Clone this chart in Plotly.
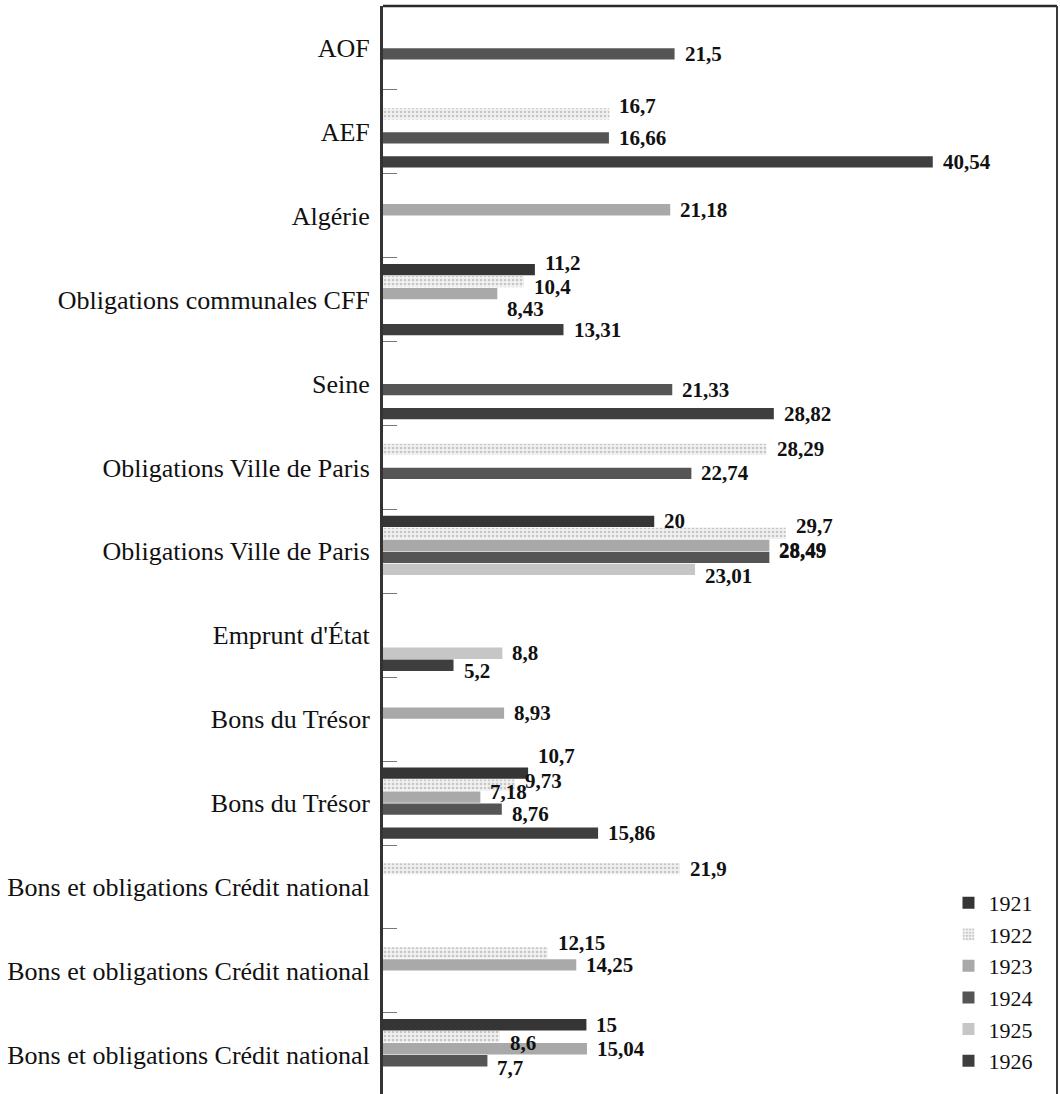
import plotly.graph_objects as go

# catégories, de haut en bas
categories = [
    "AOF",
    "AEF",
    "Algérie",
    "Obligations communales CFF",
    "Seine",
    "Obligations Ville de Paris",
    "Obligations Ville de Paris",
    "Emprunt d'État",
    "Bons du Trésor",
    "Bons du Trésor",
    "Bons et obligations Crédit national",
    "Bons et obligations Crédit national",
    "Bons et obligations Crédit national",
]
years = ["1921", "1922", "1923", "1924", "1925", "1926"]

v1921 = [None, None, None, 11.2, None, None, 20, None, None, 10.7, None, None, 15]
v1922 = [None, 16.7, None, 10.4, None, 28.29, 29.7, None, None, 9.73, 21.9, 12.15, 8.6]
v1923 = [None, None, 21.18, 8.43, None, None, 28.49, None, 8.93, 7.18, None, 14.25, 15.04]
v1924 = [21.5, 16.66, None, None, 21.33, 22.74, 28.49, None, None, 8.76, None, None, 7.7]
v1925 = [None, None, None, None, None, None, 23.01, 8.8, None, None, None, None, None]
v1926 = [None, 40.54, None, 13.31, 28.82, None, None, 5.2, None, 15.86, None, None, None]
series = [v1921, v1922, v1923, v1924, v1925, v1926]

colors = ["#353535", "#f1f1f1", "#a9a9a9", "#555555", "#c6c6c6", "#3e3e3e"]

# petits décalages verticaux (px, vers le bas) des étiquettes, comme dans l'original
label_nudge = {
    (1, 1): -8,
    (3, 0): -7, (3, 1): 5, (3, 2): 15,
    (6, 1): -7, (6, 2): 5, (6, 3): -6, (6, 4): 7,
    (7, 5): 6,
    (9, 0): -17, (9, 1): -4, (9, 2): -5, (9, 3): 5,
    (11, 1): -10,
    (12, 1): 6, (12, 3): 7,
}

bargap = 0.142
slot = (1 - bargap) / len(years)
ypos = list(range(len(categories)))

fig = go.Figure()
for j, (yr, vals) in enumerate(zip(years, series)):
    marker = dict(color=colors[j], line=dict(width=0))
    if yr == "1922":
        marker["pattern"] = dict(shape=".", fgcolor="#9c9c9c", size=4, solidity=0.35)
    fig.add_trace(go.Bar(
        x=vals, y=ypos, orientation="h", name=yr, marker=marker,
    ))

annotations = []
for j, vals in enumerate(series):
    for i, v in enumerate(vals):
        if v is None:
            continue
        annotations.append(dict(
            x=v, y=i + (j - 2.5) * slot, xref="x", yref="y",
            text=f"<b>{v:g}</b>".replace(".", ","),
            showarrow=False, xanchor="left", yanchor="middle",
            xshift=8, yshift=-label_nudge.get((i, j), 0),
            font=dict(family="Liberation Serif, serif", size=21, color="#111"),
        ))

# cadre : ligne du haut et bord droit
frame = [
    dict(type="line", xref="paper", yref="paper", x0=0, x1=1, y0=1, y1=1,
         line=dict(color="#2a2a2a", width=2.5)),
    dict(type="line", xref="paper", yref="paper", x0=1, x1=1, y0=0, y1=1,
         line=dict(color="#3a3a3a", width=2)),
]

px_per_cat = 83.9
plot_h = 1094 - 6
fig.update_layout(
    width=1060, height=1094,
    margin=dict(l=383, r=3, t=6, b=0, autoexpand=False),
    paper_bgcolor="white", plot_bgcolor="white",
    barmode="group", bargap=bargap, bargroupgap=0.06,
    font=dict(family="Liberation Serif, serif", color="#111"),
    annotations=annotations,
    shapes=frame,
    showlegend=True,
    legend=dict(
        x=0.839, y=0.195, xanchor="left", yanchor="top",
        traceorder="normal", bgcolor="rgba(0,0,0,0)",
        font=dict(family="Liberation Serif, serif", size=22, color="#111"),
    ),
    xaxis=dict(
        range=[0, 49.7], showline=False,
        showticklabels=False, ticks="", showgrid=False, zeroline=False, automargin=False,
    ),
    yaxis=dict(
        range=[-0.5 + plot_h / px_per_cat, -0.5],
        tickmode="array", tickvals=ypos, ticktext=categories,
        ticks="", ticklabelstandoff=5, automargin=False,
        tickfont=dict(family="Liberation Serif, serif", size=26, color="#111"),
        showline=True, linecolor="#333", linewidth=3,
        showgrid=False, zeroline=False,
        minor=dict(tickmode="array", tickvals=[k + 0.5 for k in ypos],
                   ticks="inside", ticklen=14, tickcolor="#777", tickwidth=1, showgrid=False),
    ),
)

# la page HTML garde sinon la marge de 8 px du navigateur
fig.write_html("out.html", config={"displayModeBar": False},
               post_script="document.body.style.margin='0px';")
